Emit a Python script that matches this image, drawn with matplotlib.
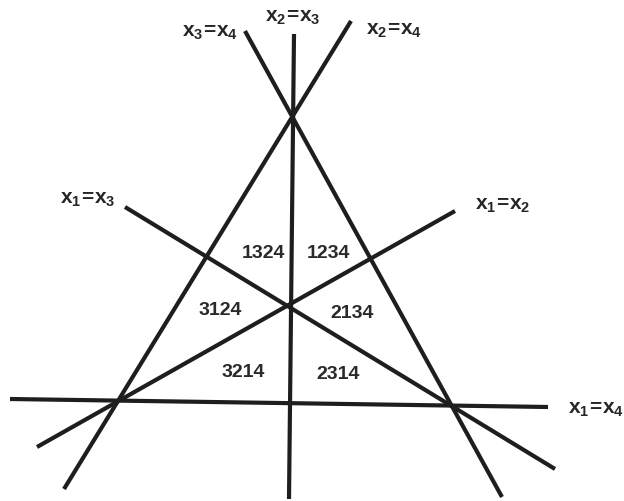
import matplotlib.pyplot as plt

# lines of the arrangement: (x_start, y_start, x_end, y_end) in picture coordinates
line_names = ["x3=x4", "x2=x3", "x2=x4", "x1=x3", "x1=x2", "x1=x4"]
line_x0 = [245, 294, 351, 125, 455, 10]
line_y0 = [32, 35, 22, 208, 212, 400]
line_x1 = [502, 289, 64, 555, 37, 548]
line_y1 = [498, 500, 490, 470, 448, 408]

# labels of the lines
label_text = [r"$\mathregular{x_3\!=\!x_4}$", r"$\mathregular{x_2\!=\!x_3}$",
              r"$\mathregular{x_2\!=\!x_4}$", r"$\mathregular{x_1\!=\!x_3}$",
              r"$\mathregular{x_1\!=\!x_2}$", r"$\mathregular{x_1\!=\!x_4}$"]
label_x = [210, 293, 394, 88, 503, 596]
label_y = [33, 18, 31, 200, 206, 410]

# regions (permutations)
regions = ["1324", "1234", "3124", "2134", "3214", "2314"]
region_x = [263, 328, 220, 352, 243, 338]
region_y = [254, 254, 311, 314, 373, 375]

plt.rcParams['font.family'] = ['Liberation Sans', 'DejaVu Sans']

fig = plt.figure(figsize=(6.24, 5.02), dpi=100)
ax = fig.add_axes([0, 0, 1, 1])
ax.set_xlim(0, 624)
ax.set_ylim(502, 0)
ax.axis('off')

for i in range(len(line_names)):
    ax.plot([line_x0[i], line_x1[i]], [line_y0[i], line_y1[i]],
            color='#1e1e1e', lw=3.0, solid_capstyle='butt')

for t, x, y in zip(label_text, label_x, label_y):
    ax.text(x, y, t, fontsize=15, fontweight='bold', ha='center', va='center',
            color='#262626')

for r, x, y in zip(regions, region_x, region_y):
    ax.text(x, y, r, fontsize=14, fontweight='bold', ha='center', va='center',
            color='#2a2a2a')

fig.savefig('out.png', dpi=100)
